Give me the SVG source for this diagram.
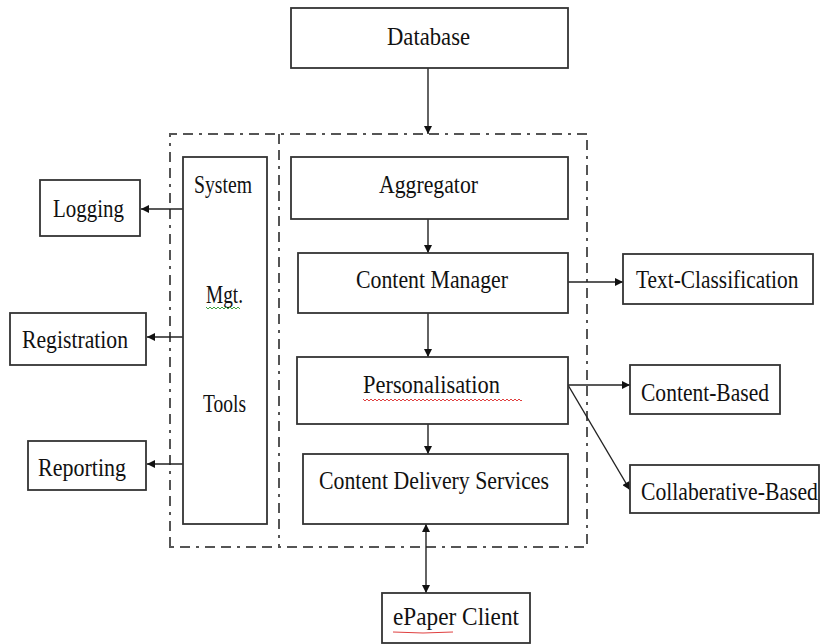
<svg xmlns="http://www.w3.org/2000/svg" width="821" height="644" viewBox="0 0 821 644">
<style>
.box{fill:#fff;stroke:#333;stroke-width:1.8}
.t{font-family:"Liberation Serif","Times New Roman",serif;font-size:26px;fill:#111;text-anchor:start}
.c{fill:none;stroke:#222;stroke-width:1.4}
.dash{fill:none;stroke:#555;stroke-width:2;stroke-dasharray:10,6,10,6,3,6}
.wr{fill:none;stroke:#e04040;stroke-width:1}
.wg{fill:none;stroke:#40a040;stroke-width:1}
</style>
<defs>
<marker id="ah" viewBox="0 0 10 10" refX="10" refY="5" markerWidth="9" markerHeight="8" markerUnits="userSpaceOnUse" orient="auto-start-reverse">
<path d="M0,0 L10,5 L0,10 z" fill="#111"/>
</marker>
</defs>
<rect width="821" height="644" fill="#fff"/>
<g id="frame">
<path class="dash" d="M170,547 L170,134 L587,134 L587,547 Z"/>
<line class="dash" x1="279" y1="134" x2="279" y2="547"/>
</g>
<g id="connectors">
<line class="c" x1="428" y1="68" x2="428" y2="134" marker-end="url(#ah)"/>
<line class="c" x1="428" y1="219" x2="428" y2="253" marker-end="url(#ah)"/>
<line class="c" x1="428" y1="313" x2="428" y2="357" marker-end="url(#ah)"/>
<line class="c" x1="428" y1="424" x2="428" y2="454" marker-end="url(#ah)"/>
<line class="c" x1="426" y1="524" x2="426" y2="593" marker-start="url(#ah)" marker-end="url(#ah)"/>
<line class="c" x1="568" y1="282" x2="623" y2="282" marker-end="url(#ah)"/>
<line class="c" x1="568" y1="385" x2="630" y2="385" marker-end="url(#ah)"/>
<line class="c" x1="568" y1="385" x2="630" y2="490" marker-end="url(#ah)"/>
<line class="c" x1="183" y1="209" x2="141" y2="209" marker-end="url(#ah)"/>
<line class="c" x1="183" y1="337" x2="147" y2="337" marker-end="url(#ah)"/>
<line class="c" x1="183" y1="464" x2="147" y2="464" marker-end="url(#ah)"/>
</g>
<g id="database"><rect class="box" x="291" y="8" width="277" height="60"/><text class="t" x="387" y="45" textLength="83" lengthAdjust="spacingAndGlyphs">Database</text></g>
<g id="system"><rect class="box" x="183" y="157" width="84" height="367"/>
<text class="t" x="194" y="193" textLength="58" lengthAdjust="spacingAndGlyphs">System</text>
<text class="t" x="206" y="303" textLength="37" lengthAdjust="spacingAndGlyphs">Mgt.</text>
<path class="wg" d="M206,307 l2,2 l2,-2 l2,2 l2,-2 l2,2 l2,-2 l2,2 l2,-2 l2,2 l2,-2 l2,2 l2,-2 l2,2 l2,-2 l2,2 l2,-2 l2,2"/>
<text class="t" x="203" y="412" textLength="43" lengthAdjust="spacingAndGlyphs">Tools</text></g>
<g id="aggregator"><rect class="box" x="291" y="157" width="277" height="62"/><text class="t" x="379" y="193" textLength="99" lengthAdjust="spacingAndGlyphs">Aggregator</text></g>
<g id="content-manager"><rect class="box" x="298" y="253" width="270" height="60"/><text class="t" x="356" y="288" textLength="152" lengthAdjust="spacingAndGlyphs">Content Manager</text></g>
<g id="personalisation"><rect class="box" x="297" y="357" width="271" height="67"/><text class="t" x="363" y="393" textLength="137" lengthAdjust="spacingAndGlyphs">Personalisation</text>
<path class="wr" d="M363,399 l2,2 l2,-2 l2,2 l2,-2 l2,2 l2,-2 l2,2 l2,-2 l2,2 l2,-2 l2,2 l2,-2 l2,2 l2,-2 l2,2 l2,-2 l2,2 l2,-2 l2,2 l2,-2 l2,2 l2,-2 l2,2 l2,-2 l2,2 l2,-2 l2,2 l2,-2 l2,2 l2,-2 l2,2 l2,-2 l2,2 l2,-2 l2,2 l2,-2 l2,2 l2,-2 l2,2 l2,-2 l2,2 l2,-2 l2,2 l2,-2 l2,2 l2,-2 l2,2 l2,-2 l2,2 l2,-2 l2,2 l2,-2 l2,2 l2,-2 l2,2 l2,-2 l2,2 l2,-2 l2,2 l2,-2 l2,2 l2,-2 l2,2 l2,-2 l2,2 l2,-2 l2,2 l2,-2 l2,2 l2,-2 l2,2 l2,-2 l2,2 l2,-2 l2,2 l2,-2 l2,2 l2,-2 l2,2 l1,-1"/></g>
<g id="content-delivery"><rect class="box" x="303" y="454" width="265" height="70"/><text class="t" x="319" y="489" textLength="230" lengthAdjust="spacingAndGlyphs">Content Delivery Services</text></g>
<g id="epaper"><rect class="box" x="382" y="593" width="148" height="50"/><text class="t" x="393" y="625" textLength="126" lengthAdjust="spacingAndGlyphs">ePaper Client</text>
<path class="wr" d="M393,632 q30,2 60,0"/></g>
<g id="text-classification"><rect class="box" x="623" y="254" width="190" height="50"/><text class="t" transform="translate(636,288) scale(0.823,1)">Text-Classification</text></g>
<g id="content-based"><rect class="box" x="630" y="365" width="150" height="49"/><text class="t" x="641" y="401" textLength="128" lengthAdjust="spacingAndGlyphs">Content-Based</text></g>
<g id="collaberative-based"><rect class="box" x="630" y="465" width="189" height="48"/><text class="t" transform="translate(641,500) scale(0.834,1)">Collaberative-Based</text></g>
<g id="logging"><rect class="box" x="40" y="180" width="100" height="56"/><text class="t" x="53" y="217" textLength="71" lengthAdjust="spacingAndGlyphs">Logging</text></g>
<g id="registration"><rect class="box" x="10" y="313" width="136" height="52"/><text class="t" x="22" y="348" textLength="106" lengthAdjust="spacingAndGlyphs">Registration</text></g>
<g id="reporting"><rect class="box" x="28" y="441" width="118" height="49"/><text class="t" x="38" y="476" textLength="88" lengthAdjust="spacingAndGlyphs">Reporting</text></g>
</svg>
